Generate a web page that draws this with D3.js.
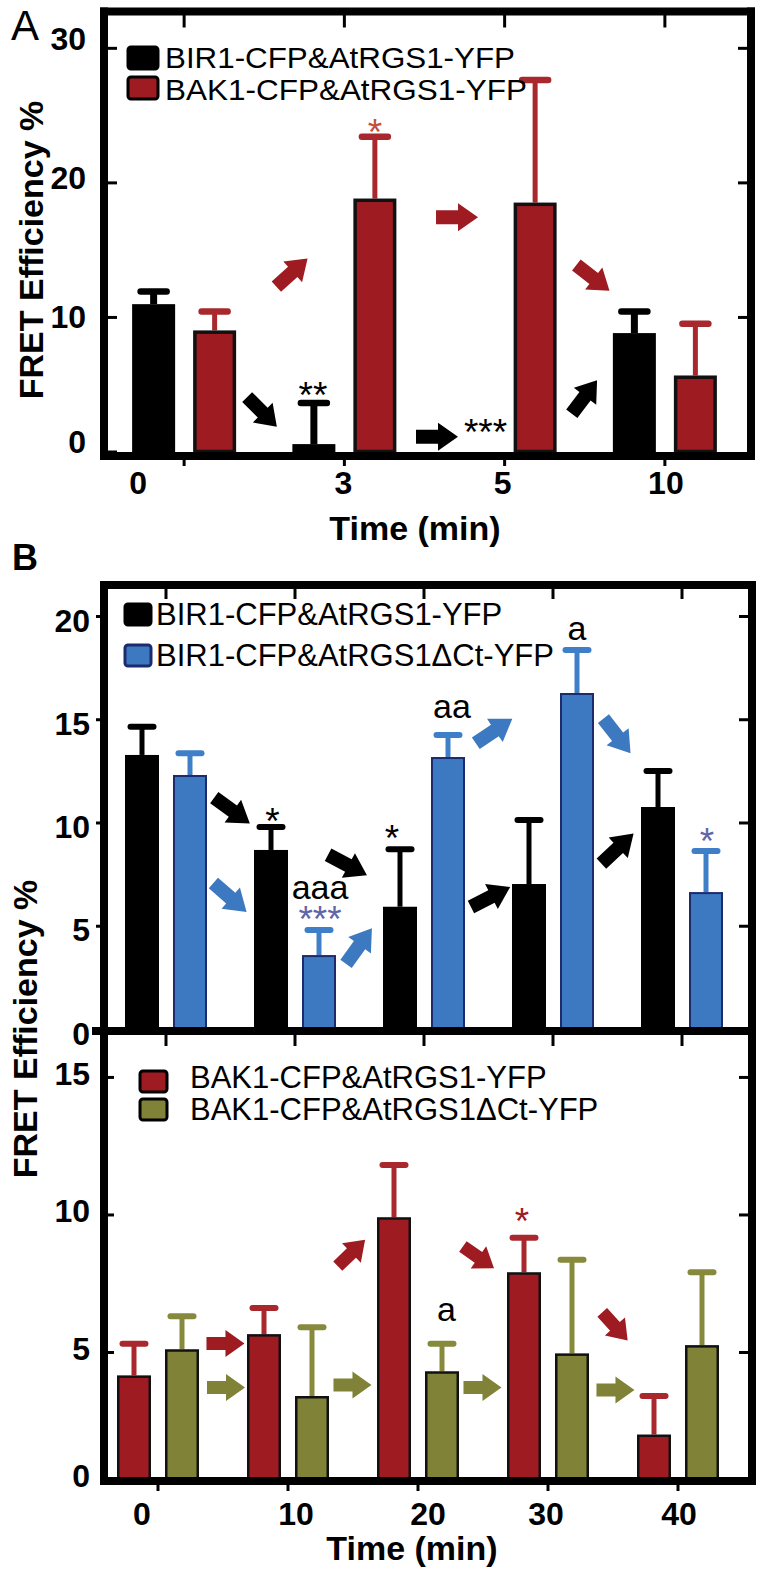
<!DOCTYPE html>
<html><head><meta charset="utf-8">
<script src="https://cdn.jsdelivr.net/npm/d3@7"></script>
<style>
body{margin:0;background:#fff}
svg{display:block}
text{font-family:"Liberation Sans",Arial,Helvetica,sans-serif}
</style>
</head><body>
<svg id="c" width="766" height="1575"></svg>
<script>
// ---------------- DATA ----------------
// Panel A
const timesA = ["0","3","5","10"];
const legendA = ["BIR1-CFP&AtRGS1-YFP","BAK1-CFP&AtRGS1-YFP"];
const birA    = [10.95, 0.55, null, 8.8];
const birAErr = [0.95, 3.05, null, 1.6];
const bakA    = [9.0, 18.8, 18.5, 5.65];
const bakAErr = [1.4, 4.6, 9.1, 3.85];
const yTicksA = [0,10,20,30];
// Panel B (upper)
const timesB = ["0","10","20","30","40"];
const legendB1 = ["BIR1-CFP&AtRGS1-YFP","BIR1-CFP&AtRGS1\u0394Ct-YFP"];
const birB    = [13.27, 8.67, 5.92, 7.02, 10.75];
const birBErr = [1.37, 1.11, 2.78, 3.10, 1.74];
const birDB    = [12.3, 3.58, 13.17, 16.27, 6.63];
const birDBErr = [1.05, 1.21, 1.07, 2.08, 1.99];
const yTicksB1 = [0,5,10,15,20];
// Panel B (lower)
const legendB2 = ["BAK1-CFP&AtRGS1-YFP","BAK1-CFP&AtRGS1\u0394Ct-YFP"];
const bakB    = [4.15, 5.65, 9.9, 7.9, 2.0];
const bakBErr = [1.15, 0.95, 1.9, 1.25, 1.4];
const bakDB    = [5.1, 3.4, 4.3, 4.95, 5.25];
const bakDBErr = [1.2, 2.5, 1.0, 3.4, 2.65];
const yTicksB2 = [0,5,10,15];
// annotations in data space: xi = category index (fractional), y = value
const arrowsA = [
  {xi:0.673,y:13.3,a:-42,c:"red"},{xi:1.703,y:17.4,a:0,c:"red"},{xi:2.551,y:12.9,a:38,c:"red"},
  {xi:0.486,y:2.94,a:45,c:"black"},{xi:1.578,y:1.1,a:0,c:"black"},{xi:2.498,y:4.05,a:-53,c:"black"}];
const arrowsB1 = [
  {xi:0.512,y:10.58,a:36,c:"black"},{xi:0.496,y:6.37,a:41,c:"blue"},{xi:1.407,y:7.94,a:28,c:"black"},
  {xi:1.496,y:4.02,a:-54,c:"blue"},{xi:2.543,y:14.43,a:-34,c:"blue"},{xi:2.516,y:6.39,a:-27,c:"black"},
  {xi:3.496,y:14.19,a:52,c:"blue"},{xi:3.5,y:8.74,a:-43,c:"black"}];
const arrowsB2 = [
  {xi:0.519,y:5.31,a:0,c:"red"},{xi:0.523,y:3.71,a:0,c:"olive"},{xi:1.496,y:3.8,a:0,c:"olive"},
  {xi:1.488,y:8.6,a:-44,c:"red"},{xi:2.496,y:3.71,a:0,c:"olive"},{xi:2.465,y:8.44,a:35,c:"red"},
  {xi:3.515,y:5.93,a:48,c:"red"},{xi:3.519,y:3.62,a:0,c:"olive"}];
const notesA = [
  {t:"**",xi:0.804,y:3.2,c:"black"},{t:"*",xi:1.191,y:22.8,c:"starRed"},{t:"***",xi:1.881,y:0.45,c:"black"}];
const notesB1 = [
  {t:"*",xi:0.826,y:9.44,c:"black"},{t:"aaa",xi:1.194,y:6.3,c:"black"},{t:"***",xi:1.194,y:4.72,c:"purple"},
  {t:"*",xi:1.752,y:8.62,c:"black"},{t:"aa",xi:2.217,y:15.06,c:"black"},{t:"a",xi:3.186,y:18.84,c:"black"},
  {t:"*",xi:4.194,y:8.47,c:"purple"}];
const notesB2 = [
  {t:"a",xi:2.219,y:6.13,c:"black"},{t:"*",xi:2.8,y:9.29,c:"red"}];

// ---------------- STYLE ----------------
const COL = {black:"#000", red:"#9e1b22", blue:"#3d79c1", olive:"#808337",
             purple:"#6266a6", starRed:"#c4503c"};
const svg = d3.select("#c");

// scales
const xA  = d3.scaleBand().domain(timesA).range([104,745]);
const yA  = d3.scaleLinear().domain([0,32.7]).range([451.5,11.5]);
const xB1 = d3.scaleBand().domain(timesB).range([101.5,746.5]);
const yB1 = d3.scaleLinear().domain([0,21.5]).range([1029,585]);
const xB2 = d3.scaleBand().domain(timesB).range([93,743]);
const yB2 = d3.scaleLinear().domain([0.31,16.67]).range([1481,1031]).clamp(true);

const xAt = (x, xi) => x.range()[0] + x.step()*(xi+0.5);

function drawSeries(g, x, y, cats, vals, errs, s) {
  const data = cats.map((c,i)=>({c, v:vals[i], e:errs[i]})).filter(d=>d.v!=null);
  const cx = d => x(d.c) + x.bandwidth()/2 + s.off;
  const base = y(0);
  g.selectAll(null).data(data).join("line")
    .attr("x1",cx).attr("x2",cx).attr("y1",d=>y(d.v)).attr("y2",d=>y(d.v+d.e))
    .attr("stroke",s.err).attr("stroke-width",s.stemW);
  g.selectAll(null).data(data).join("line")
    .attr("x1",d=>cx(d)-s.capW/2).attr("x2",d=>cx(d)+s.capW/2)
    .attr("y1",d=>y(d.v+d.e)).attr("y2",d=>y(d.v+d.e))
    .attr("stroke",s.err).attr("stroke-width",s.capT).attr("stroke-linecap","round");
  g.selectAll(null).data(data).join("rect")
    .attr("x",d=>cx(d)-(s.w-s.sw)/2).attr("width",s.w-s.sw)
    .attr("y",d=>y(d.v)+s.sw/2).attr("height",d=>Math.max(0,base-y(d.v)-s.sw/2))
    .attr("fill",s.fill).attr("stroke",s.stroke).attr("stroke-width",s.sw);
}

function arrowD(L, sw, hw, hl) {
  const p = [[-L/2,-sw/2],[L/2-hl,-sw/2],[L/2-hl,-hw/2],[L/2,0],[L/2-hl,hw/2],[L/2-hl,sw/2],[-L/2,sw/2]];
  return d3.line()(p) + "Z";
}
function drawArrows(g, x, y, arr, dims) {
  const d = arrowD(...dims);
  g.selectAll(null).data(arr).join("path")
    .attr("d", d)
    .attr("fill", a => COL[a.c])
    .attr("transform", a => `translate(${xAt(x,a.xi)},${y(a.y)}) rotate(${a.a})`);
}
function drawNotes(g, x, y, arr) {
  g.selectAll(null).data(arr).join("text")
    .attr("x", n => xAt(x,n.xi)).attr("y", n => y(n.y))
    .attr("text-anchor","middle")
    .attr("font-size", n => n.t[0]==="*" ? 37 : 34)
    .attr("fill", n => COL[n.c]).text(n => n.t);
}
function drawLegend(g, labels, fills, strokes, o) {
  labels.forEach((t,i)=>{
    g.append("rect").attr("x",o.x).attr("y",o.y[i]).attr("width",o.w).attr("height",o.h)
      .attr("rx",3).attr("fill",fills[i]).attr("stroke",strokes[i]).attr("stroke-width",3);
    const tx = g.append("text").attr("x",o.tx).attr("y",o.ty[i]).attr("font-size",o.fs||31).text(t);
    if (o.tl) tx.attr("textLength",o.tl[i]).attr("lengthAdjust","spacingAndGlyphs");
  });
}
function styleAxis(g, w) {
  g.select(".domain").remove();
  g.selectAll(".tick line").attr("stroke","#000").attr("stroke-width",w||3);
  g.selectAll(".tick text").attr("font-size",32).attr("font-weight","bold").attr("fill","#000")
    .attr("font-family",'"Liberation Sans",Arial,sans-serif');
}
function frameLine(x1,y1,x2,y2){
  svg.append("line").attr("x1",x1).attr("y1",y1).attr("x2",x2).attr("y2",y2)
    .attr("stroke","#000").attr("stroke-width",8).attr("stroke-linecap","square");
}

// ---------------- PANEL A ----------------
const gA = svg.append("g");
drawSeries(gA, xA, yA, timesA, birA, birAErr,
  {off:-30.5, w:43, fill:COL.black, stroke:"#000", sw:3, err:"#000", stemW:7, capW:26, capT:6.5});
drawSeries(gA, xA, yA, timesA, bakA, bakAErr,
  {off:30.5, w:43, fill:COL.red, stroke:"#111", sw:3.5, err:"#a8282d", stemW:5, capW:26, capT:6.5});
drawArrows(gA, xA, yA, arrowsA, [42,14,28,20]);
drawNotes(gA, xA, yA, notesA);
drawLegend(gA, legendA, [COL.black, COL.red], ["#000","#000"],
  {x:128, y:[47,77], w:30, h:22, tx:165, ty:[68,100], fs:29, tl:[350,362]});

// axes A
const nudgeA = {30:-9, 20:-4, 10:0, 0:-9};
const axLA = svg.append("g").attr("transform","translate(104,0)")
  .call(d3.axisLeft(yA).tickValues(yTicksA).tickSize(-13).tickPadding(18));
styleAxis(axLA);
axLA.selectAll(".tick text").attr("y", d => nudgeA[d]);
styleAxis(svg.append("g").attr("transform","translate(751,0)")
  .call(d3.axisRight(yA).tickValues(yTicksA.slice(1)).tickSize(-13).tickFormat("")));
styleAxis(svg.append("g").attr("transform","translate(0,11.5)")
  .call(d3.axisTop(xA).tickSize(-16).tickFormat("")));
const nudgeXA = {"0":-46, "3":-1, "5":-2, "10":1};
const axBA = svg.append("g").attr("transform","translate(0,456)")
  .call(d3.axisBottom(xA).tickSize(10).tickPadding(5));
styleAxis(axBA);
axBA.selectAll(".tick text").attr("x", d => nudgeXA[d]);
frameLine(104,11.5,751,11.5); frameLine(104,456,751,456);
frameLine(104,11.5,104,456); frameLine(751,11.5,751,456);

svg.append("text").attr("x",11).attr("y",40).attr("font-size",42).text("A");
svg.append("text").attr("transform","translate(43,250) rotate(-90)").attr("text-anchor","middle")
  .attr("font-size",34).attr("font-weight","bold").text("FRET Efficiency %");
svg.append("text").attr("x",415).attr("y",540).attr("text-anchor","middle")
  .attr("font-size",34).attr("font-weight","bold").text("Time (min)");

// ---------------- PANEL B upper ----------------
const gB1 = svg.append("g");
drawSeries(gB1, xB1, yB1, timesB, birB, birBErr,
  {off:-24, w:34, fill:COL.black, stroke:"#000", sw:2, err:"#000", stemW:5, capW:23, capT:6});
drawSeries(gB1, xB1, yB1, timesB, birDB, birDBErr,
  {off:24, w:34, fill:COL.blue, stroke:"#1c2a6e", sw:2, err:"#3f7fc8", stemW:5, capW:23, capT:6});
drawArrows(gB1, xB1, yB1, arrowsB1, [44,14,28,21]);
drawNotes(gB1, xB1, yB1, notesB1);
drawLegend(gB1, legendB1, [COL.black, COL.blue], ["#000","#1c2a6e"],
  {x:125, y:[604,645], w:26, h:21, tx:156, ty:[625,666]});

const axLB1 = svg.append("g").attr("transform","translate(104,0)")
  .call(d3.axisLeft(yB1).tickValues(yTicksB1).tickSize(8).tickPadding(6));
styleAxis(axLB1);
axLB1.selectAll(".tick text").attr("y", 5);
styleAxis(svg.append("g").attr("transform","translate(752,0)")
  .call(d3.axisRight(yB1).tickValues(yTicksB1.slice(1)).tickSize(-13).tickFormat("")));
styleAxis(svg.append("g").attr("transform","translate(0,585)")
  .call(d3.axisTop(xB1).tickSize(-14).tickFormat("")));
styleAxis(svg.append("g").attr("transform","translate(0,1031)")
  .call(d3.axisBottom(xB1).tickSize(15).tickFormat("")));

// ---------------- PANEL B lower ----------------
const gB2 = svg.append("g");
drawSeries(gB2, xB2, yB2, timesB, bakB, bakBErr,
  {off:-24, w:34, fill:COL.red, stroke:"#111", sw:2.5, err:"#a8282d", stemW:5, capW:23, capT:6});
drawSeries(gB2, xB2, yB2, timesB, bakDB, bakDBErr,
  {off:24, w:34, fill:COL.olive, stroke:"#111", sw:2.5, err:"#878a3c", stemW:5, capW:23, capT:6});
drawArrows(gB2, xB2, yB2, arrowsB2, [38,13,27,19]);
drawNotes(gB2, xB2, yB2, notesB2);
drawLegend(gB2, legendB2, [COL.red, COL.olive], ["#000","#000"],
  {x:140, y:[1071,1099], w:27, h:21, tx:190, ty:[1088,1120]});

const axLB2 = svg.append("g").attr("transform","translate(104,0)")
  .call(d3.axisLeft(yB2).tickValues(yTicksB2).tickSize(-10).tickPadding(14));
styleAxis(axLB2);
axLB2.selectAll(".tick text").attr("y", d => d===0 ? -4.5 : -3);
styleAxis(svg.append("g").attr("transform","translate(752,0)")
  .call(d3.axisRight(yB2).tickValues(yTicksB2.slice(1)).tickSize(-13).tickFormat("")));
const nudgeXB = {"0":-16, "10":8, "20":10, "30":-2, "40":1};
const axBB2 = svg.append("g").attr("transform","translate(0,1481)")
  .call(d3.axisBottom(xB2).tickSize(10).tickPadding(11));
styleAxis(axBB2);
axBB2.selectAll(".tick text").attr("x", d => nudgeXB[d]);

frameLine(104,585,752,585); frameLine(104,1481,752,1481);
frameLine(104,585,104,1481); frameLine(752,585,752,1481);
frameLine(96,1031,752,1031);

svg.append("text").attr("x",12).attr("y",570).attr("font-size",36).attr("font-weight","bold").text("B");
svg.append("text").attr("transform","translate(37,1029) rotate(-90)").attr("text-anchor","middle")
  .attr("font-size",34).attr("font-weight","bold").text("FRET Efficiency %");
svg.append("text").attr("x",412).attr("y",1560).attr("text-anchor","middle")
  .attr("font-size",34).attr("font-weight","bold").text("Time (min)");
</script>
</body></html>
